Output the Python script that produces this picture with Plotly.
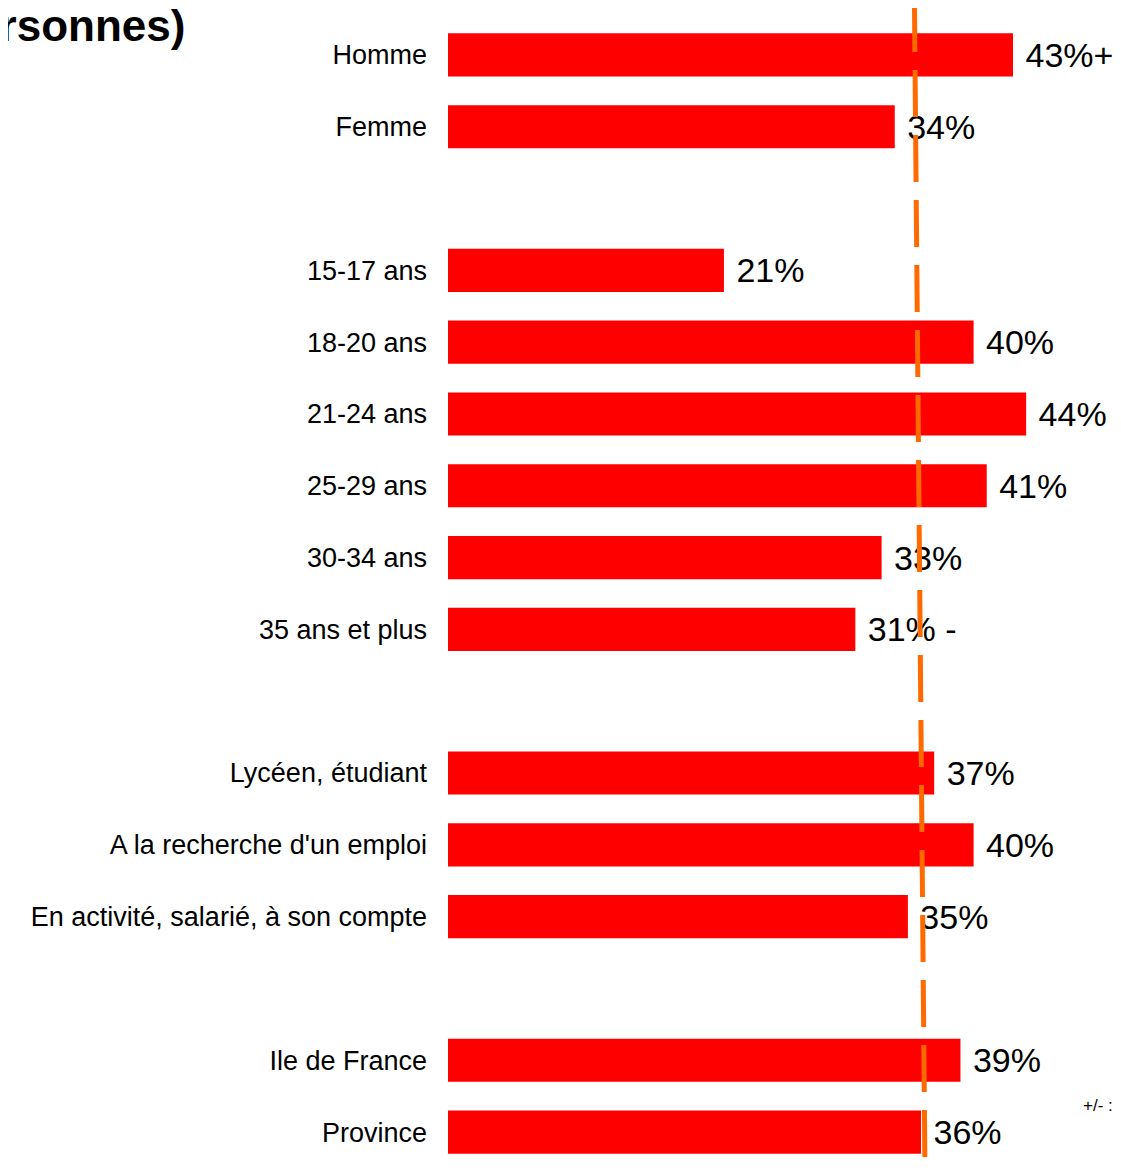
import plotly.graph_objects as go

# groups of categories (spacers between groups are empty slots)
sexe = ["Homme", "Femme"]
sexe_val = [43, 34]
sexe_txt = ["43%+", "34%"]

age = ["15-17 ans", "18-20 ans", "21-24 ans", "25-29 ans", "30-34 ans", "35 ans et plus"]
age_val = [21, 40, 44, 41, 33, 31]
age_txt = ["21%", "40%", "44%", "41%", "33%", "31% -"]

statut = ["Lycéen, étudiant", "A la recherche d'un emploi", "En activité, salarié, à son compte"]
statut_val = [37, 40, 35]
statut_txt = ["37%", "40%", "35%"]

region = ["Ile de France", "Province"]
region_val = [39, 36]
region_txt = ["39%", "36%"]

# average line (drawn slightly slanted in the original)
moyenne_haut = 35.5
moyenne_bas = 36.3

cats = sexe + age + statut + region
vals = sexe_val + age_val + statut_val + region_val
txts = [" " + t for t in sexe_txt + age_txt + statut_txt + region_txt]
order = sexe + [" "] + age + ["  "] + statut + ["   "] + region

# page has an 8px body margin: plot area sits at 448..1121 x 19..1168 on the page
W, H = 1113, 1166
L, T, B = 440, 11, 6
PW, PH = W - L, H - T - B

fig = go.Figure()
fig.add_trace(
    go.Bar(
        x=vals,
        y=cats,
        orientation="h",
        marker=dict(color="#FF0000", line_width=0),
        width=0.6,
        text=txts,
        textposition="outside",
        textfont=dict(size=34, color="black", family="Liberation Sans, Arial"),
        cliponaxis=False,
        showlegend=False,
    )
)

fig.add_shape(
    type="line",
    xref="x",
    yref="paper",
    x0=moyenne_haut,
    x1=moyenne_bas,
    y0=1 + 14 / PH,
    y1=-4 / PH,
    line=dict(color="#FF6A00", width=5, dash="47px,18px"),
)

fig.add_annotation(
    text="<b>Utilisation (base : ensemble des personnes)</b>",
    xref="paper",
    yref="paper",
    x=(179 - L) / PW,
    y=1 + (T - 1) / PH,
    xanchor="right",
    yanchor="top",
    yshift=10,
    showarrow=False,
    font=dict(size=44, color="black", family="Liberation Sans, Arial"),
)

fig.add_annotation(
    text="+/- : différence significative",
    xref="paper",
    yref="paper",
    x=(1073 - L) / PW,
    y=(1160 - 1097) / PH,
    xanchor="left",
    yanchor="middle",
    showarrow=False,
    font=dict(size=17, color="black", family="Liberation Sans, Arial"),
)

fig.update_xaxes(range=[0, PW / 13.14], visible=False, showgrid=False, zeroline=False)
fig.update_yaxes(
    categoryorder="array",
    categoryarray=order,
    autorange="reversed",
    showgrid=False,
    zeroline=False,
    showline=False,
    ticks="",
    ticklabelstandoff=20,
    tickfont=dict(size=27, color="black", family="Liberation Sans, Arial"),
)
fig.update_layout(
    width=W,
    height=H,
    margin=dict(l=L, r=0, t=T, b=B),
    plot_bgcolor="white",
    paper_bgcolor="white",
    bargap=0.4,
)

fig.write_html("out.html")
